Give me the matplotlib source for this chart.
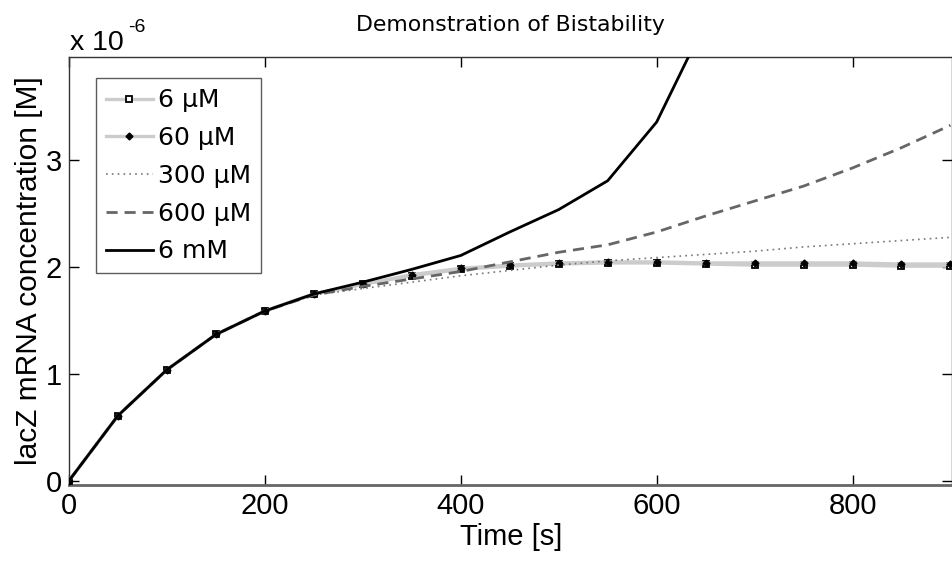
import matplotlib
matplotlib.use("Agg")
import matplotlib.pyplot as plt
from matplotlib.ticker import FuncFormatter
import numpy as np

t = [0, 50, 100, 150, 200, 250, 300, 350, 400, 450, 500, 550, 600, 650, 700, 750, 800, 850, 900]

c_6uM = [0, 0.61, 1.04, 1.37, 1.59, 1.75, 1.84, 1.92, 1.98, 2.01, 2.03, 2.04, 2.04, 2.03, 2.02, 2.02, 2.02, 2.01, 2.01]
c_60uM = [0, 0.61, 1.04, 1.37, 1.59, 1.75, 1.84, 1.93, 1.99, 2.02, 2.04, 2.05, 2.05, 2.04, 2.04, 2.04, 2.04, 2.03, 2.03]
c_300uM = [0, 0.61, 1.04, 1.37, 1.59, 1.74, 1.80, 1.86, 1.92, 1.97, 2.02, 2.06, 2.09, 2.12, 2.15, 2.19, 2.22, 2.25, 2.28]
c_600uM = [0, 0.61, 1.04, 1.37, 1.59, 1.74, 1.82, 1.89, 1.96, 2.05, 2.14, 2.21, 2.33, 2.48, 2.62, 2.76, 2.93, 3.12, 3.33]
c_6mM = [0, 0.61, 1.04, 1.37, 1.59, 1.75, 1.86, 1.98, 2.11, 2.33, 2.54, 2.81, 3.36, 4.30, 5.5, 7.0, 8.5, 10.0, 11.5]

labels = ["6 \u03bcM", "60 \u03bcM", "300 \u03bcM", "600 \u03bcM", "6 mM"]
scale = 1e-6

fig = plt.figure(figsize=(9.53, 5.61), dpi=100)
ax = fig.add_axes([0.0724, 0.1355, 0.927, 0.763])

tt = np.array(t)
ax.plot(tt, np.array(c_6uM) * scale, color="#cccccc", lw=2.4, marker="s", ms=4.5,
        mfc="white", mec="black", mew=1.3, label=labels[0], zorder=3)
ax.plot(tt, np.array(c_60uM) * scale, color="#cccccc", lw=2.4, marker="D", ms=3.5,
        mfc="black", mec="black", label=labels[1], zorder=3)
ax.plot(tt, np.array(c_300uM) * scale, color="#777777", lw=1.2, ls=(0, (1, 2.5)),
        label=labels[2], zorder=4)
ax.plot(tt, np.array(c_600uM) * scale, color="#666666", lw=2.0, ls=(0, (4, 2.5)),
        label=labels[3], zorder=4)
ax.plot(tt, np.array(c_6mM) * scale, color="black", lw=2.0, label=labels[4], zorder=5)

ax.set_xlim(0, 902)
ax.set_ylim(-0.04e-6, 3.97e-6)
ax.set_xticks([0, 200, 400, 600, 800])
ax.set_yticks([0, 1e-6, 2e-6, 3e-6])
ax.yaxis.set_major_formatter(FuncFormatter(lambda v, p: f"{v / scale:.0f}"))

tickfont = "Liberation Sans"
for lab in ax.get_xticklabels() + ax.get_yticklabels():
    lab.set_fontfamily(tickfont)
    lab.set_fontsize(21)
ax.tick_params(direction="in", length=7, width=1, top=True, right=True, pad=5)

for s in ax.spines.values():
    s.set_color("#333333")
    s.set_linewidth(1)
ax.spines["bottom"].set_color("#666666")
ax.spines["bottom"].set_linewidth(2)

ax.set_xlabel("Time [s]", fontsize=21, family=tickfont, labelpad=2)
ax.set_ylabel("lacZ mRNA concentration [M]", fontsize=21.5, family=tickfont, labelpad=2)
ax.set_title("Demonstration of Bistability", fontsize=15.8, family="DejaVu Sans", pad=19)

fig.text(0.073, 0.9, "x 10", fontsize=20.5, family=tickfont, ha="left", va="bottom")
fig.text(0.134, 0.935, "-6", fontsize=14, family=tickfont, ha="left", va="bottom")

leg = ax.legend(loc="upper left", bbox_to_anchor=(0.03, 0.95), fontsize=18,
                frameon=True, fancybox=False, edgecolor="#333333", handlelength=1.9,
                handletextpad=0.2, borderpad=0.4, labelspacing=0.55, borderaxespad=0)
leg.get_frame().set_linewidth(1)

fig.savefig("out.png", dpi=100)
